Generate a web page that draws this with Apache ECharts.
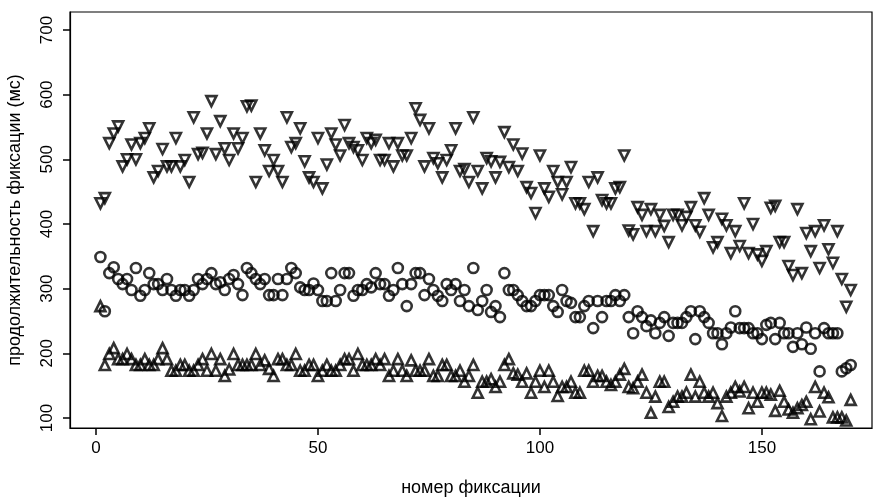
<!DOCTYPE html>
<html>
<head>
<meta charset="utf-8">
<script src="https://cdn.jsdelivr.net/npm/echarts@6/dist/echarts.min.js"></script>
<style>
  html, body { margin: 0; padding: 0; background: #fff; }
  #chart { width: 873px; height: 497px; }
</style>
</head>
<body>
<div id="chart"></div>
<script>
// Fixation durations (ms) by fixation number, three groups of readers
const longFix = [
  432, 440, 525, 540, 551, 489, 500, 523, 500, 525,
  533, 548, 472, 482, 516, 489, 489, 533, 489, 499,
  465, 565, 508, 510, 540, 590, 508, 559, 517, 499,
  540, 517, 533, 582, 583, 465, 540, 514, 482, 499,
  482, 465, 565, 519, 525, 548, 497, 472, 465, 533,
  455, 492, 540, 523, 506, 553, 525, 519, 514, 499,
  533, 525, 530, 499, 499, 525, 489, 525, 506, 506,
  533, 579, 561, 489, 548, 502, 494, 472, 499, 514,
  548, 482, 485, 465, 565, 482, 455, 502, 497, 472,
  496, 542, 488, 523, 482, 509, 457, 448, 417, 506,
  455, 442, 482, 465, 446, 465, 488, 432, 432, 423,
  465, 389, 472, 437, 432, 432, 455, 457, 506, 390,
  384, 426, 414, 389, 423, 389, 414, 397, 372, 414,
  414, 398, 411, 426, 398, 388, 440, 414, 364, 372,
  408, 398, 355, 389, 366, 432, 355, 400, 353, 343,
  358, 425, 428, 372, 372, 335, 321, 423, 324, 386,
  358, 389, 332, 398, 361, 340, 389, 315, 272, 298
];

const midFix = [
  349, 265, 324, 333, 315, 307, 315, 298, 332, 289,
  298, 324, 307, 307, 298, 315, 298, 289, 298, 298,
  289, 298, 315, 307, 315, 324, 307, 310, 298, 315,
  321, 307, 290, 332, 324, 315, 307, 315, 290, 290,
  315, 290, 315, 332, 324, 302, 298, 298, 308, 298,
  281, 281, 324, 281, 298, 324, 324, 289, 298, 298,
  307, 302, 324, 307, 307, 289, 298, 332, 307, 273,
  307, 324, 324, 290, 315, 298, 289, 281, 307, 298,
  307, 281, 298, 273, 332, 267, 281, 298, 264, 273,
  256, 324, 298, 298, 290, 281, 273, 273, 281, 290,
  290, 290, 273, 264, 298, 281, 278, 256, 256, 273,
  281, 239, 281, 256, 281, 281, 290, 281, 290, 256,
  231, 265, 256, 242, 251, 231, 247, 256, 227, 247,
  247, 247, 256, 265, 222, 265, 256, 247, 231, 231,
  214, 231, 240, 265, 239, 239, 239, 231, 231, 222,
  244, 247, 222, 247, 231, 231, 210, 231, 214, 240,
  207, 231, 172, 239, 231, 231, 231, 172, 177, 182
];

const shortFix = [
  273, 182, 199, 208, 191, 191, 199, 191, 182, 182,
  191, 182, 182, 191, 208, 191, 173, 173, 182, 182,
  173, 173, 182, 191, 173, 199, 173, 191, 165, 175,
  199, 182, 182, 182, 182, 199, 182, 189, 176, 165,
  191, 191, 182, 182, 199, 173, 173, 182, 182, 165,
  173, 182, 173, 173, 182, 191, 191, 173, 199, 182,
  182, 182, 191, 182, 191, 165, 173, 191, 173, 165,
  189, 173, 173, 173, 191, 165, 165, 182, 182, 165,
  165, 173, 156, 165, 182, 139, 156, 156, 160, 148,
  156, 182, 191, 169, 167, 156, 169, 139, 156, 173,
  148, 173, 156, 134, 148, 148, 156, 139, 139, 173,
  173, 156, 165, 165, 156, 151, 156, 167, 176, 148,
  146, 156, 167, 139, 108, 133, 156, 156, 117, 125,
  133, 133, 139, 167, 133, 156, 139, 133, 139, 123,
  103, 133, 139, 148, 141, 148, 115, 139, 125, 139,
  139, 136, 111, 142, 125, 113, 108, 115, 120, 125,
  98, 148, 110, 139, 132, 101, 101, 101, 96, 128
];

const xTicks = [0, 50, 100, 150];
const yTicks = [100, 200, 300, 400, 500, 600, 700];

const xTitle = 'номер фиксации';
const yTitle = 'продолжительность фиксации (мс)';

const toPoints = arr => arr.map((v, i) => [i + 1, v]);

const font = 'Liberation Sans, Arial, sans-serif';
const chart = echarts.init(document.getElementById('chart'), null, { renderer: 'canvas' });

// Open markers: outline only, so overlapping points stay visible
const markerStyle = { color: 'rgba(255,255,255,0)', borderColor: '#000000', borderWidth: 2.6 };

chart.setOption({
  animation: false,
  backgroundColor: '#ffffff',
  grid: {
    left: 70, right: 1, top: 12, bottom: 69,
    outerBoundsMode: 'none',
    show: true, borderColor: '#000000', borderWidth: 1.2
  },
  xAxis: {
    type: 'value',
    min: -5.85, max: 174.8,
    splitLine: { show: false },
    axisLine: { show: true, onZero: false, lineStyle: { color: '#000', width: 1.2 } },
    axisTick: { show: true, length: 7, customValues: xTicks,
      lineStyle: { color: '#000', width: 1.5 } },
    axisLabel: { customValues: xTicks, margin: 12, color: '#000',
      fontFamily: font, fontSize: 17 },
    name: xTitle, nameLocation: 'middle', nameGap: 51,
    nameTextStyle: { color: '#000', fontFamily: font, fontSize: 18 }
  },
  yAxis: {
    type: 'value',
    min: 84.5, max: 727.8,
    splitLine: { show: false },
    axisLine: { show: true, onZero: false, lineStyle: { color: '#000', width: 1.2 } },
    axisTick: { show: true, length: 7, customValues: yTicks,
      lineStyle: { color: '#000', width: 1.5 } },
    axisLabel: { customValues: yTicks, rotate: 90, margin: 14, color: '#000',
      fontFamily: font, fontSize: 17 },
    name: yTitle, nameLocation: 'middle', nameGap: 46, nameRotate: 90,
    nameTextStyle: { color: '#000', fontFamily: font, fontSize: 18 }
  },
  series: [
    {
      type: 'scatter', data: toPoints(longFix),
      symbol: 'triangle', symbolRotate: 180, symbolSize: 10,
      itemStyle: markerStyle
    },
    {
      type: 'scatter', data: toPoints(midFix),
      symbol: 'circle', symbolSize: 10,
      itemStyle: markerStyle
    },
    {
      type: 'scatter', data: toPoints(shortFix),
      symbol: 'triangle', symbolSize: 10,
      itemStyle: markerStyle
    }
  ]
});
</script>
</body>
</html>
